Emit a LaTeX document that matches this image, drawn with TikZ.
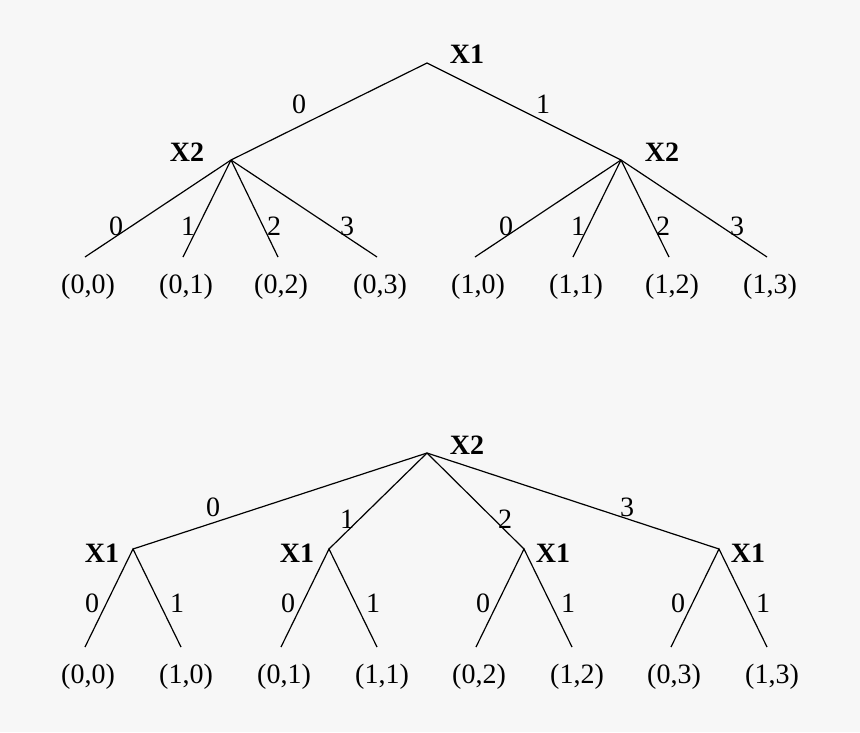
\documentclass[tikz,border=0pt]{standalone}
\usepackage{fontspec}
\setmainfont{Liberation Serif}
\usepackage{xcolor}
\usepackage{tikz}
\usetikzlibrary{positioning,calc}
\definecolor{bggray}{HTML}{F7F7F7}

\begin{document}
\begin{tikzpicture}[
  x=1pt,y=-1pt,
  font=\fontsize{28}{31}\selectfont,
  var/.style={font=\fontsize{28}{31}\selectfont\bfseries,inner sep=0pt},
  leaf/.style={inner sep=0pt},
  elab/.style={inner sep=0pt},
  edge/.style={line width=1.2pt}
]
\fill[bggray] (0,0) rectangle (860,732);
\useasboundingbox (0,0) rectangle (860,732);

% top tree: X1 first, then X2
\coordinate (t) at (427,63);
\node[var] (tlab) at (467,54) {X1};
\coordinate (tA) at (231,160);
\coordinate (tB) at (621,160);
\node[var] (tAlab) at (187,152) {X2};
\node[var] (tBlab) at (662,152) {X2};
\draw[edge] (tA) -- (t) -- (tB);
\node[elab] at (299,104) {0};
\node[elab] at (543,104) {1};
\foreach \k/\lx/\tx in {0/85/116,1/183/188,2/278/274,3/377/347}{
  \coordinate (tA\k) at (\lx,257);
  \draw[edge] (tA) -- (tA\k);
  \node[elab] at (\tx,226) {\k};
  \node[leaf] (lA\k) at (\lx+3,287) {(0,\k)};
}
\foreach \k/\lx/\tx in {0/475/506,1/573/578,2/669/663,3/767/737}{
  \coordinate (tB\k) at (\lx,257);
  \draw[edge] (tB) -- (tB\k);
  \node[elab] at (\tx,226) {\k};
  \node[leaf] (lB\k) at (\lx+3,287) {(1,\k)};
}

% bottom tree: X2 first, then X1
\coordinate (b) at (427,453);
\node[var] (blab) at (467,445) {X2};
\foreach \k/\vx/\nx/\tx/\ty in {0/133/102/213/507,1/329/297/347/519,2/524/553/505/519,3/719/748/627/507}{
  \coordinate (b\k) at (\vx,549);
  \node[var] (b\k lab) at (\nx,553) {X1};
  \draw[edge] (b) -- (b\k);
  \node[elab] at (\tx,\ty) {\k};
  \coordinate (b\k0) at (\vx-48,647);
  \coordinate (b\k1) at (\vx+48,647);
  \draw[edge] (b\k0) -- (b\k) -- (b\k1);
  \node[elab] at (\vx-41,603) {0};
  \node[elab] at (\vx+44,603) {1};
  \node[leaf] (m\k0) at (\vx-45,677) {(0,\k)};
  \node[leaf] (m\k1) at (\vx+53,677) {(1,\k)};
}
\end{tikzpicture}
\end{document}
